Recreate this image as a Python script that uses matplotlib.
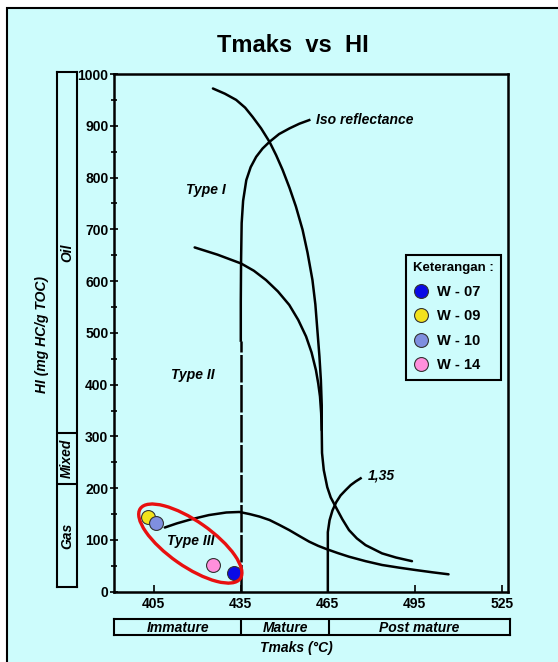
import matplotlib.pyplot as plt
from matplotlib.patches import Ellipse, Rectangle
from matplotlib.lines import Line2D
from matplotlib.transforms import ScaledTranslation

# ---- data ----
tmax_ticks = [405, 435, 465, 495, 525]
hi_ticks = list(range(0, 1001, 100))

type1_x = [425.4, 429.5, 433.4, 436.5, 439.1, 442.0, 444.9, 447.2, 449.4, 451.8, 454.0, 456.3, 458.0,
           459.7, 460.7, 461.4, 462.1, 462.6, 462.9, 462.9, 463.0, 463.6, 464.8, 466.0, 467.7, 470.0,
           472.3, 475.0, 478.0, 483.7, 488.5, 494.0]
type1_y = [972, 962, 950, 935, 917, 895, 869, 843, 815, 780, 744, 699, 655,
           602, 555, 505, 455, 409, 360, 312, 268, 235, 202, 182, 164, 140,
           119, 103, 90, 74, 66, 59]
type2_x = [419.1, 427.0, 435.1, 439.5, 443.7, 447.8, 451.7, 454.8, 457.5, 459.4, 460.9, 461.7, 462.3, 462.7, 462.9]
type2_y = [665, 651, 634, 620, 602, 580, 554, 525, 493, 462, 428, 402, 377, 345, 312]
type3_x = [408.8, 413, 418, 424, 430, 434.5, 438, 441.5, 444.9, 448.3, 451.7, 455.2, 458.6, 461.7,
           464.7, 468.5, 472.3, 478, 483.7, 489.5, 495.2, 501, 506.6]
type3_y = [124, 132, 140, 148, 153, 154, 150, 145, 138.5, 129, 119, 107.5, 96.6, 88.5,
           82, 74.5, 67.6, 59, 51.6, 46.5, 41.9, 37.5, 33.6]

iso_x = [435.0, 435.0, 435.1, 435.3, 435.8, 436.9, 438.4, 440.3, 442.5, 444.9, 448.2, 451.8, 455.2, 458.6]
iso_y = [485, 560, 640, 712, 755, 795, 820, 840, 856, 869, 884, 895, 904, 911]
iso_dash_x = [435, 435]
iso_dash_y = [0, 485]
r135_x = [465.0, 465.0, 465.6, 466.6, 467.9, 469.4, 471.1, 472.9, 474.6, 476.3]
r135_y = [0, 115, 138, 157, 173, 186, 196, 206, 213, 219]

wells = ["W - 07", "W - 09", "W - 10", "W - 14"]
well_tmax = [432.8, 402.9, 405.7, 425.4]
well_hi = [36.7, 143.7, 133.3, 51.6]
well_colors = ["#0a0ae6", "#f2e21c", "#7f8fe0", "#ff8fdc"]

zones = ["Gas", "Mixed", "Oil"]
zone_edges = [0, 200, 300, 1000]
maturity = ["Immature", "Mature", "Post mature"]
maturity_edges = [391.3, 435, 465, 527.1]

bg = "#cdfcfc"
plt.rcParams["font.family"] = ["Liberation Sans", "DejaVu Sans"]
plt.rcParams["font.weight"] = "bold"

W, H = 558, 662
fig = plt.figure(figsize=(W / 100, H / 100), dpi=100, facecolor="white")

# page frame
fig.patches.append(Rectangle((7 / W, -0.05), 1.1, 1.05 - 8 / H, transform=fig.transFigure,
                             facecolor=bg, edgecolor="black", lw=1.5, zorder=-10))

fig.text(293 / W, 1 - 45 / H, "Tmaks  vs  HI", ha="center", va="center", fontsize=17, fontweight="bold")

ax = fig.add_axes([114 / W, 1 - 591.7 / H, (508 - 114) / W, (591.7 - 74) / H])
ax.set_facecolor(bg)
ax.set_xlim(391.3, 527.1)
ax.set_ylim(0, 1000)
for s in ax.spines.values():
    s.set_linewidth(1.8)
ax.set_xticks(tmax_ticks)
ax.set_yticks(hi_ticks)
ax.set_yticks(range(50, 1000, 100), minor=True)
ax.tick_params(axis="x", direction="in", length=5, width=1.2, pad=4, labelsize=10)
ax.tick_params(axis="y", which="major", direction="inout", length=6, width=1.2, pad=1, labelsize=10)
ax.tick_params(axis="y", which="minor", direction="inout", length=5, width=1.2)
ax.tick_params(top=False, right=False)

lw = 1.8
ax.plot(type1_x, type1_y, color="black", lw=lw, solid_capstyle="round", solid_joinstyle="round")
ax.plot(type2_x, type2_y, color="black", lw=lw, solid_capstyle="round", solid_joinstyle="round")
ax.plot(type3_x, type3_y, color="black", lw=lw, solid_capstyle="round", solid_joinstyle="round")
ax.plot(iso_x, iso_y, color="black", lw=lw, solid_joinstyle="round")
ax.plot(iso_dash_x, iso_dash_y, color="black", lw=lw, linestyle=(0, (11, 1.0)))
ax.plot(r135_x, r135_y, color="black", lw=lw, solid_joinstyle="round")

lab = dict(fontsize=10, fontweight="bold", style="italic")
ax.text(460.9, 911, "Iso reflectance", ha="left", va="center", **lab)
ax.text(422.9, 776, "Type I", ha="center", va="center", **lab)
ax.text(418.3, 419, "Type II", ha="center", va="center", **lab)
ax.text(417.9, 97, "Type III", ha="center", va="center", **lab)
ax.text(478.9, 225, "1,35", ha="left", va="center", **lab)

for x, y, c in zip(well_tmax, well_hi, well_colors):
    ax.plot(x, y, "o", ms=10, mfc=c, mec="#333333", mew=0.8, zorder=5)

# red ellipse around the samples (sized in inches)
ell = Ellipse((0, 0), 1.22, 0.45, angle=-35, fill=False, edgecolor="#e81010", lw=2.4,
              transform=fig.dpi_scale_trans + ScaledTranslation(417.6, 93, ax.transData), zorder=6)
ax.add_patch(ell)

handles = [Line2D([], [], ls="none", marker="o", ms=10, mfc=c, mec="#333333", mew=0.8) for c in well_colors]
leg = ax.legend(handles, wells, title="Keterangan :", loc="upper left", bbox_to_anchor=(0.741, 0.650),
                borderaxespad=0, frameon=True, fancybox=False, edgecolor="black", facecolor=bg, framealpha=1,
                prop={"size": 10.5, "weight": "bold"}, title_fontproperties={"size": 9.5, "weight": "bold"},
                labelspacing=0.72, handletextpad=0.5, borderpad=0.5, handlelength=1.1)
leg.get_frame().set_linewidth(1.5)
leg._legend_box.align = "left"

# HI zone bar on the left
axz = fig.add_axes([57 / W, 1 - 587 / H, 20 / W, (587 - 72) / H])
axz.set_facecolor(bg)
axz.set_ylim(zone_edges[0], zone_edges[-1])
axz.set_xlim(0, 1)
axz.set_xticks([])
axz.set_yticks([])
for s in axz.spines.values():
    s.set_linewidth(1.5)
for e in zone_edges[1:-1]:
    axz.axhline(e, color="black", lw=1.5)
for name, lo, hi in zip(zones, zone_edges[:-1], zone_edges[1:]):
    axz.text(0.5, (lo + hi) / 2, name, rotation=90, ha="center", va="center", **lab)

fig.text(42 / W, 1 - 335 / H, "HI (mg HC/g TOC)", rotation=90, ha="center", va="center",
         fontsize=10, fontweight="bold", style="italic")

# maturity bar below
axm = fig.add_axes([114 / W, 1 - 635 / H, (510 - 114) / W, (635 - 619.3) / H])
axm.set_facecolor(bg)
axm.set_xlim(maturity_edges[0], maturity_edges[-1])
axm.set_ylim(0, 1)
axm.set_xticks([])
axm.set_yticks([])
for s in axm.spines.values():
    s.set_linewidth(1.5)
for e in maturity_edges[1:-1]:
    axm.axvline(e, color="black", lw=1.5)
for name, lo, hi in zip(maturity, maturity_edges[:-1], maturity_edges[1:]):
    axm.text((lo + hi) / 2, 0.45, name, ha="center", va="center", **lab)

fig.text(296 / W, 1 - 648 / H, "Tmaks (°C)", ha="center", va="center", **lab)

fig.savefig("out.png", dpi=100, facecolor="white")
